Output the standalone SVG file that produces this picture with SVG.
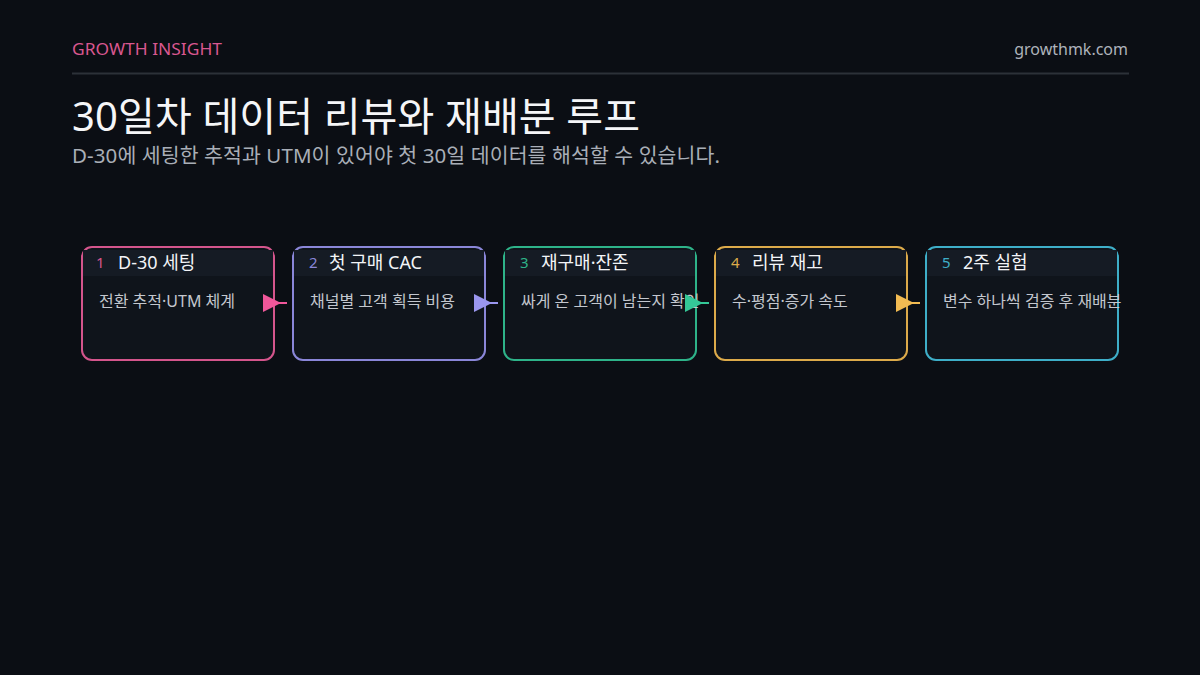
<svg xmlns="http://www.w3.org/2000/svg" width="1200" height="675" viewBox="0 0 1200 675">
<defs>
<style>
text{font-family:"Noto Sans","Noto Sans CJK KR",sans-serif;}
.card{fill:#0f141b;stroke-width:2;}
.hdr{fill:#151b24;}
.num{font-size:15px;}
.ttl{font-size:18px;fill:#f2f4f7;}
.body{font-size:16px;fill:#c3c7ce;}
.conn{stroke-width:2;fill:none;}
</style>
</defs>
<rect width="1200" height="675" fill="#0b0e14"/>
<text x="72" y="55" font-size="17" fill="#d9578f" textLength="150" lengthAdjust="spacingAndGlyphs">GROWTH INSIGHT</text>
<text x="1128" y="55" font-size="16" fill="#aeb3bb" text-anchor="end">growthmk.com</text>
<line x1="72" y1="73.500" x2="1129" y2="73.500" stroke="#2c3138" stroke-width="2"/>
<text x="72" y="131" font-size="40" fill="#f5f6f8" textLength="568">30일차 데이터 리뷰와 재배분 루프</text>
<text x="72" y="163" font-size="20.500" fill="#a9aeb7" textLength="648">D-30에 세팅한 추적과 UTM이 있어야 첫 30일 데이터를 해석할 수 있습니다.</text>

<g id="node1">
<rect class="card" x="82" y="247" width="192" height="113" rx="10" stroke="#d4558c"/>
<rect class="hdr" x="83" y="250" width="190" height="26"/>
<text class="num" x="96" y="268" fill="#d4558c">1</text>
<text class="ttl" x="118" y="269">D-30 세팅</text>
<text class="body" x="99" y="307">전환 추적·UTM 체계</text>
</g>
<g id="node2">
<rect class="card" x="293" y="247" width="192" height="113" rx="10" stroke="#8a86d8"/>
<rect class="hdr" x="294" y="250" width="190" height="26"/>
<text class="num" x="309" y="268" fill="#8a86d8">2</text>
<text class="ttl" x="329" y="269">첫 구매 CAC</text>
<text class="body" x="310" y="307">채널별 고객 획득 비용</text>
</g>
<g id="node3">
<rect class="card" x="504" y="247" width="192" height="113" rx="10" stroke="#2eb389"/>
<rect class="hdr" x="505" y="250" width="190" height="26"/>
<text class="num" x="520" y="268" fill="#2eb389">3</text>
<text class="ttl" x="541" y="269">재구매·잔존</text>
<text class="body" x="521" y="307">싸게 온 고객이 남는지 확인</text>
</g>
<g id="node4">
<rect class="card" x="715" y="247" width="192" height="113" rx="10" stroke="#dcaa4a"/>
<rect class="hdr" x="716" y="250" width="190" height="26"/>
<text class="num" x="731" y="268" fill="#dcaa4a">4</text>
<text class="ttl" x="752" y="269">리뷰 재고</text>
<text class="body" x="732" y="307">수·평점·증가 속도</text>
</g>
<g id="node5">
<rect class="card" x="926" y="247" width="192" height="113" rx="10" stroke="#3eaec8"/>
<rect class="hdr" x="927" y="250" width="190" height="26"/>
<text class="num" x="942" y="268" fill="#3eaec8">5</text>
<text class="ttl" x="963" y="269">2주 실험</text>
<text class="body" x="943" y="307">변수 하나씩 검증 후 재배분</text>
</g>

<g id="connectors">
<line class="conn" x1="270" y1="303" x2="287" y2="303" stroke="#f0579a"/>
<polygon points="263,294 281,303 263,312" fill="#f0579a"/>
<line class="conn" x1="481" y1="303" x2="498" y2="303" stroke="#9a96ee"/>
<polygon points="474,294 492,303 474,312" fill="#9a96ee"/>
<line class="conn" x1="692" y1="303" x2="709" y2="303" stroke="#34c797"/>
<polygon points="685,294 703,303 685,312" fill="#34c797"/>
<line class="conn" x1="903" y1="303" x2="920" y2="303" stroke="#f2bb52"/>
<polygon points="896,294 914,303 896,312" fill="#f2bb52"/>
</g>
</svg>
